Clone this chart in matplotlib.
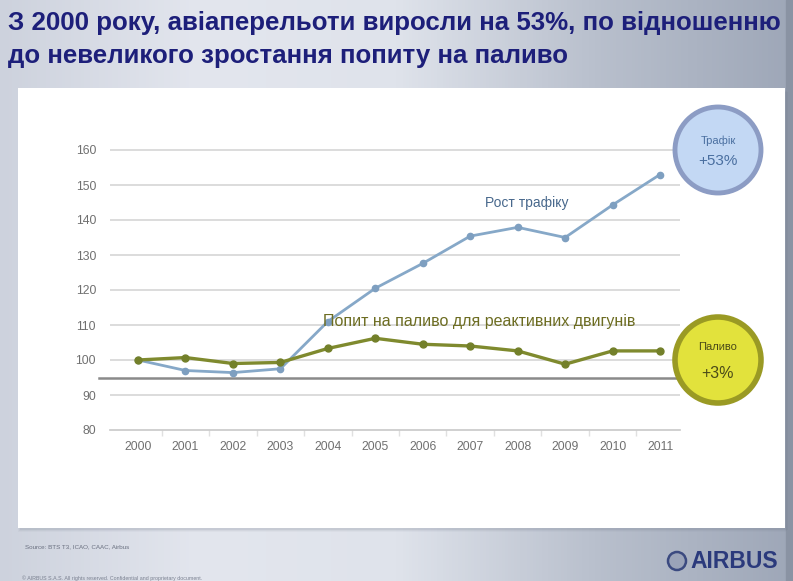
import numpy as np
import matplotlib
matplotlib.use("Agg")
import matplotlib.pyplot as plt
from matplotlib.colors import LinearSegmentedColormap
from matplotlib.patches import Rectangle, Circle

plt.rcParams['font.family'] = ['Liberation Sans', 'DejaVu Sans']

years = [2000, 2001, 2002, 2003, 2004, 2005, 2006, 2007, 2008, 2009, 2010, 2011]
traffic = [100, 97.0, 96.4, 97.5, 111.0, 120.5, 127.6, 135.4, 137.9, 135.0, 144.3, 153.0]
fuel = [100, 100.7, 99.0, 99.3, 103.3, 106.2, 104.5, 104.0, 102.6, 98.8, 102.6, 102.6]
y_ticks = [80, 90, 100, 110, 120, 130, 140, 150, 160]

title = ["З 2000 року, авіаперельоти виросли на 53%, по відношенню",
         "до невеликого зростання попиту на паливо"]
traffic_label = "Рост трафіку"
fuel_label = "Попит на паливо для реактивних двигунів"
badge_traffic = ("Трафік", "+53%")
badge_fuel = ("Паливо", "+3%")
baseline = 94.8

W, H = 793, 581
fig = plt.figure(figsize=(W / 100, H / 100), dpi=100)


def px_axes(x0, y0, x1, y1, **kw):
    return fig.add_axes([x0 / W, 1 - y1 / H, (x1 - x0) / W, (y1 - y0) / H], **kw)


# slide background
bg = px_axes(0, 0, W, H)
bg.set_xlim(0, W)
bg.set_ylim(H, 0)
bg.axis('off')
cmap = LinearSegmentedColormap.from_list(
    'slide', ['#cdd2dd', '#e3e6ee', '#dfe3eb', '#b9c0cd', '#9ea7b8'])
grad = np.linspace(0, 1, 256)[None, :]
bg.imshow(grad, cmap=cmap, extent=(0, W, H, 0), aspect='auto', zorder=0)
bg.add_patch(Rectangle((786, 0), 7, H, color='#8a93a3', zorder=1))

# white chart panel with a soft shadow
for i, a in enumerate([0.05, 0.08, 0.12]):
    bg.add_patch(Rectangle((18 + i, 90 + i), 768, 442 - 2 * i,
                           color='#707888', alpha=a, lw=0, zorder=2))
bg.add_patch(Rectangle((18, 88), 767, 440, color='white', lw=0, zorder=3))

# title
for i, line in enumerate(title):
    bg.text(8, 23 + 33 * i, line, fontsize=18.6, fontweight='bold',
            color='#1d1f7a', va='center', ha='left', zorder=4)

# footer
bg.text(25, 547, "Source: BTS T3, ICAO, CAAC, Airbus", fontsize=4.5,
        color='#6a7080', va='center', zorder=4)
bg.text(22, 578, "© AIRBUS S.A.S. All rights reserved. Confidential and proprietary document.",
        fontsize=3.8, color='#7a8090', va='center', zorder=4)
bg.add_patch(Circle((677, 561), 9, facecolor='#9aa3b8', edgecolor='#3b4a80',
                    lw=1.8, zorder=4))
bg.text(690, 561, "AIRBUS", fontsize=16.5, fontweight='bold', color='#2b3a7c',
        va='center', ha='left', zorder=4)

# chart
ax = px_axes(110, 143, 680, 430)
ax.set_zorder(5)
ax.patch.set_alpha(0)
ax.set_xlim(1999.41, 2011.42)
ax.set_ylim(80, 162)

for v in y_ticks[1:]:
    ax.axhline(v, color='#d6d6d6', lw=1.2, zorder=1)
ax.axhline(baseline, xmin=-0.02, xmax=1, color='#8a8a8a', lw=1.8,
           clip_on=False, zorder=2)

ax.plot(years, traffic, color='#86a8c8', lw=2, marker='o', ms=4.5,
        mfc='#7e9fc0', mec='#7e9fc0', zorder=4)
ax.plot(years, fuel, color='#7f8a2e', lw=2.4, marker='o', ms=5,
        mfc='#73802a', mec='#73802a', zorder=5)

ax.text(2008.2, 145, traffic_label, fontsize=10, color='#48688c',
        ha='center', va='center', zorder=6)
ax.text(2003.9, 111, fuel_label, fontsize=11.5, color='#6d6d22',
        ha='left', va='center', zorder=6)

ax.set_yticks(y_ticks)
ax.set_xticks(years)
ax.set_xticks([y + 0.5 for y in years[:-1]], minor=True)
ax.tick_params(axis='y', length=0, labelsize=8.8, labelcolor='#707070', pad=10)
ax.tick_params(axis='x', which='major', length=0, labelsize=8.8,
               labelcolor='#707070', pad=8)
ax.tick_params(axis='x', which='minor', length=4, color='#e0e0e0', width=1)
for side in ['top', 'right', 'left']:
    ax.spines[side].set_visible(False)
ax.spines['bottom'].set_color('#c8c8c8')
ax.spines['bottom'].set_linewidth(1.2)

# badges on top
ov = px_axes(0, 0, W, H)
ov.set_xlim(0, W)
ov.set_ylim(H, 0)
ov.axis('off')
ov.set_zorder(10)
ov.add_patch(Circle((718, 150), 43, facecolor='#c3d8f4', edgecolor='#8c9cc4', lw=3.5))
ov.text(718, 141, badge_traffic[0], fontsize=8, color='#4a6fa0',
        ha='center', va='center')
ov.text(718, 161, badge_traffic[1], fontsize=11, color='#4a6fa0',
        ha='center', va='center')
ov.add_patch(Circle((718, 360), 43, facecolor='#e2e23c', edgecolor='#9a9a24', lw=4))
ov.text(718, 347, badge_fuel[0], fontsize=8, color='#4a4a18',
        ha='center', va='center')
ov.text(718, 374, badge_fuel[1], fontsize=11.5, color='#4a4a18',
        ha='center', va='center')

fig.savefig('out.png', dpi=100)
